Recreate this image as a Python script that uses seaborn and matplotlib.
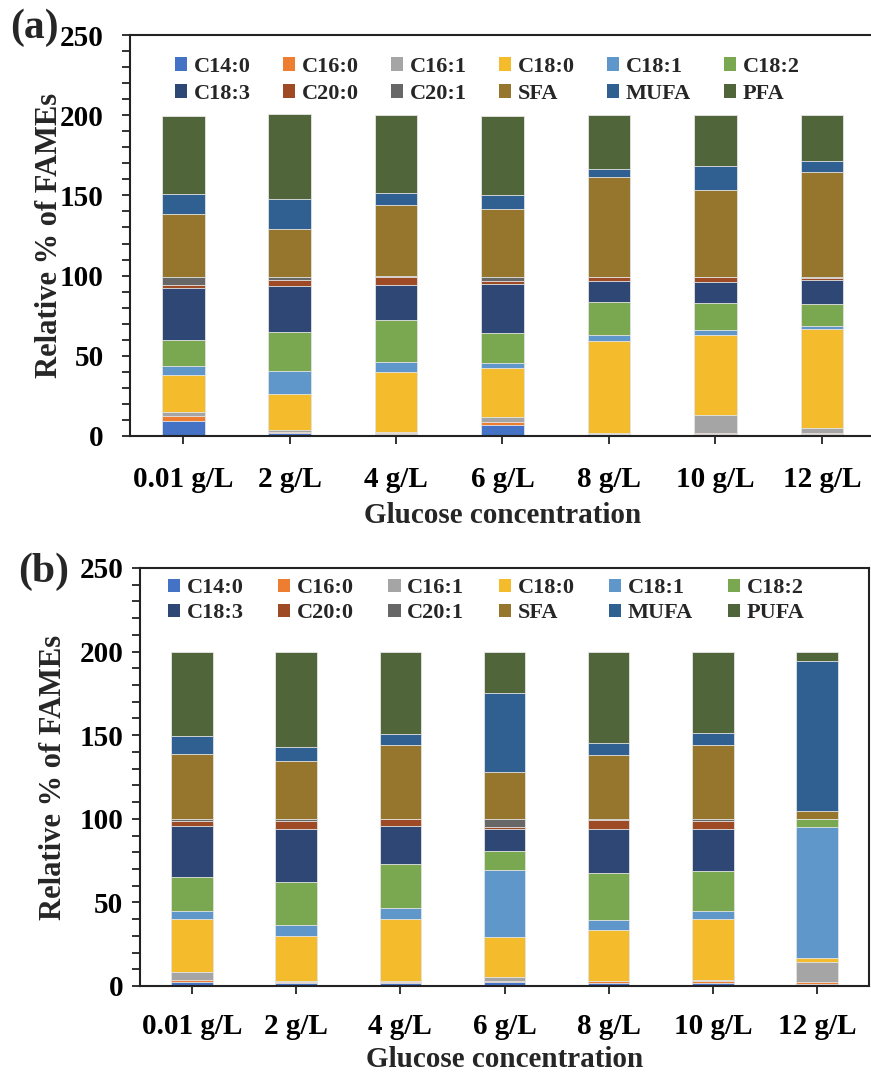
import numpy as np
import pandas as pd
import matplotlib
matplotlib.use("Agg")
import matplotlib.pyplot as plt
from matplotlib.patches import Patch
from matplotlib.ticker import MultipleLocator
import seaborn as sns

# Glucose levels on the x axis
concentrations = ["0.01 g/L", "2 g/L", "4 g/L", "6 g/L", "8 g/L", "10 g/L", "12 g/L"]

# Stack order, bottom to top
components = ["C14:0", "C16:0", "C16:1", "C18:0", "C18:1", "C18:2",
              "C18:3", "C20:0", "C20:1", "SFA", "MUFA", "PUFA"]
legend_names_a = components[:-1] + ["PFA"]
legend_names_b = components

colors = ["#4472C4", "#ED7D31", "#A5A5A5", "#F4BC2C", "#5F97CB", "#7AA850",
          "#2F4775", "#9E4A25", "#676767", "#96762C", "#2F6091", "#51653A"]

# Panel (a): relative % of FAMEs
a_c14_0 = [9.5, 1.7, 1.2, 6.9, 1.0, 1.0, 1.0]
a_c16_0 = [3.2, 1.0, 0.9, 1.6, 0.4, 0.7, 0.7]
a_c16_1 = [2.3, 0.8, 0.2, 3.2, 0.2, 11.6, 3.1]
a_c18_0 = [23.2, 22.5, 37.8, 30.9, 57.8, 49.9, 61.9]
a_c18_1 = [5.6, 14.7, 5.8, 2.7, 3.6, 2.9, 2.1]
a_c18_2 = [16.1, 23.9, 26.2, 18.7, 20.4, 16.6, 13.3]
a_c18_3 = [32.6, 29.1, 22.2, 30.9, 13.2, 13.5, 15.0]
a_c20_0 = [1.5, 3.6, 4.6, 1.7, 2.3, 2.7, 1.6]
a_c20_1 = [5.4, 2.1, 0.7, 2.7, 0.4, 0.4, 0.6]
a_sfa = [38.7, 29.7, 44.2, 42.0, 62.0, 54.3, 65.3]
a_mufa = [12.9, 18.7, 7.7, 8.8, 5.2, 15.0, 6.8]
a_pufa = [48.5, 52.8, 48.6, 49.4, 33.6, 31.5, 28.7]

# Panel (b): relative % of FAMEs
b_c14_0 = [2.6, 1.6, 1.6, 2.2, 1.6, 1.6, 1.0]
b_c16_0 = [1.0, 0.8, 0.8, 1.0, 1.2, 1.2, 1.2]
b_c16_1 = [4.6, 0.4, 0.4, 2.2, 0.4, 0.6, 12.2]
b_c18_0 = [32.1, 27.0, 37.5, 23.8, 30.5, 36.5, 2.4]
b_c18_1 = [4.6, 6.6, 6.2, 40.3, 5.6, 5.0, 78.2]
b_c18_2 = [20.0, 25.9, 26.2, 11.5, 28.2, 24.1, 4.8]
b_c18_3 = [30.5, 31.5, 22.7, 13.0, 26.5, 24.8, 0.0]
b_c20_0 = [3.0, 5.0, 4.2, 1.2, 5.0, 4.8, 0.0]
b_c20_1 = [1.6, 1.2, 0.4, 4.8, 1.0, 1.4, 0.0]
b_sfa = [38.7, 34.3, 44.3, 28.1, 38.3, 44.3, 4.6]
b_mufa = [10.6, 8.4, 6.6, 47.2, 7.0, 6.8, 90.2]
b_pufa = [50.7, 57.3, 49.1, 24.7, 54.7, 48.9, 5.2]

series_a = [a_c14_0, a_c16_0, a_c16_1, a_c18_0, a_c18_1, a_c18_2,
            a_c18_3, a_c20_0, a_c20_1, a_sfa, a_mufa, a_pufa]
series_b = [b_c14_0, b_c16_0, b_c16_1, b_c18_0, b_c18_1, b_c18_2,
            b_c18_3, b_c20_0, b_c20_1, b_sfa, b_mufa, b_pufa]

sns.set_theme(style="ticks")
plt.rcParams["font.family"] = ["Liberation Serif", "DejaVu Serif"]
plt.rcParams["font.weight"] = "bold"
plt.rcParams["axes.labelweight"] = "bold"

W, H = 871, 1076
fig = plt.figure(figsize=(W / 100, H / 100), dpi=100)


def px_axes(left, top, right, bottom):
    return fig.add_axes([left / W, 1 - bottom / H, (right - left) / W, (bottom - top) / H])


ax_a = px_axes(130, 35, 875, 436)
ax_b = px_axes(140, 568, 869, 986)


def stacked(ax, series):
    df = pd.DataFrame(np.array(series).T, columns=components)
    df.insert(0, "conc", concentrations)
    cum = df[components].cumsum(axis=1)
    # Draw cumulative heights from the top layer down so each layer shows its own segment
    for i in range(len(components) - 1, -1, -1):
        d = pd.DataFrame({"conc": concentrations, "top": cum[components[i]].values})
        sns.barplot(data=d, x="conc", y="top", order=concentrations, color=colors[i],
                    saturation=1, width=0.4, edgecolor="#E6E6E6", linewidth=0.6,
                    ax=ax, zorder=2)


def style(ax, names, ypad, xpad, ylabelpad, xlabelpad, leg_anchor, leg_spacing, colspace):
    ax.set_ylim(0, 250)
    ax.set_xlim(-0.5, 6.5)
    ax.yaxis.set_major_locator(MultipleLocator(50))
    ax.yaxis.set_minor_locator(MultipleLocator(10))
    for s in ax.spines.values():
        s.set_linewidth(1.5)
        s.set_color("#222222")
    ax.tick_params(axis="y", which="both", direction="out", length=6, width=1.3,
                   pad=ypad, labelsize=21, colors="#222222", labelcolor="black")
    ax.tick_params(axis="x", which="both", direction="out", length=6, width=1.3,
                   pad=xpad, labelsize=21, colors="#222222", labelcolor="black")
    for lab in ax.get_xticklabels() + ax.get_yticklabels():
        lab.set_fontweight("bold")
    ax.set_xlabel("Glucose concentration", fontsize=21, fontweight="bold", labelpad=xlabelpad)
    ax.set_ylabel("Relative % of FAMEs", fontsize=22, fontweight="bold", labelpad=ylabelpad)
    handles = [Patch(facecolor=c, edgecolor="none", label=n) for c, n in zip(colors, names)]
    order = [0, 6, 1, 7, 2, 8, 3, 9, 4, 10, 5, 11]
    ax.legend([handles[i] for i in order], [names[i] for i in order], ncol=6,
              loc="upper left", bbox_to_anchor=leg_anchor, frameon=False,
              borderpad=0, borderaxespad=0, handlelength=0.55, handleheight=0.55,
              handletextpad=0.3, columnspacing=colspace, labelspacing=leg_spacing,
              prop={"family": "Liberation Serif", "weight": "bold", "size": 16})


stacked(ax_a, series_a)
stacked(ax_b, series_b)
style(ax_a, legend_names_a, ypad=13, xpad=15.5, ylabelpad=-3, xlabelpad=6.5,
      leg_anchor=(0.06, 0.945), leg_spacing=0.3, colspace=1.45)
style(ax_b, legend_names_b, ypad=6, xpad=13.5, ylabelpad=8, xlabelpad=4,
      leg_anchor=(0.038, 0.975), leg_spacing=0.22, colspace=1.55)

fig.text(10 / W, 1 - 28 / H, "(a)", fontsize=30, fontweight="bold", ha="left", va="center")
fig.text(18 / W, 1 - 572 / H, "(b)", fontsize=30, fontweight="bold", ha="left", va="center")

fig.savefig("out.png", dpi=100)
